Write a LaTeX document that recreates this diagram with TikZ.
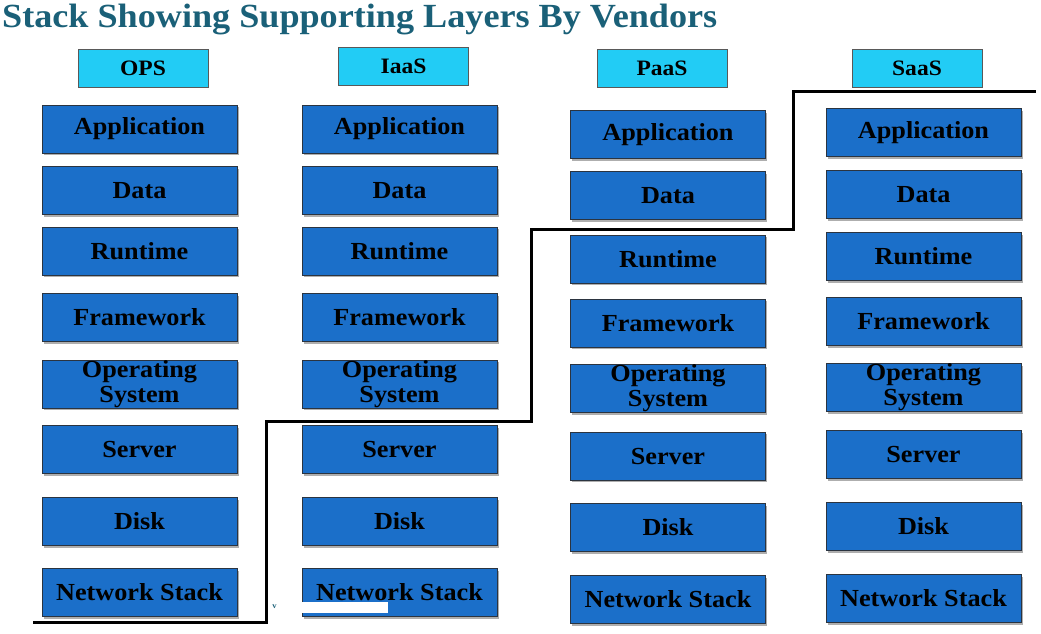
\documentclass[tikz,border=0pt]{standalone}
\usepackage{fontspec}
\setmainfont[FakeStretch=1.07]{Liberation Serif}
\usetikzlibrary{shadows}
\definecolor{layerblue}{HTML}{1B6FC9}
\definecolor{headcyan}{HTML}{22CCF5}
\definecolor{titleteal}{HTML}{1A6078}
\definecolor{edgegray}{HTML}{2B3440}
\tikzset{
  layer/.style={draw=edgegray, line width=0.8pt, fill=layerblue, minimum width=195pt, minimum height=48pt,
    inner sep=0pt, font=\fontsize{24.5}{25}\selectfont\bfseries, text=black, align=center,
    drop shadow={shadow xshift=1.5pt, shadow yshift=-2pt, opacity=0.45, fill=black!70}},
  head/.style={draw=gray!70!black, line width=0.8pt, fill=headcyan, minimum width=130pt, minimum height=38pt,
    inner sep=0pt, font=\fontsize{22}{22}\selectfont\bfseries, text=black},
  stair/.style={line width=3pt, black, line cap=butt, line join=miter}
}
\begin{document}
\begin{tikzpicture}[x=1pt,y=-1pt]
\useasboundingbox (0,0) rectangle (1041,633);
\fill[white] (0,0) rectangle (1041,633);
% title
\node[anchor=base west, inner sep=0pt, text=titleteal, font=\fontsize{33.8}{34}\selectfont\bfseries] (title) at (2,27) {Stack Showing Supporting Layers By Vendors};
% headers
\node[head] (hOPS) at (143,68) {OPS};
\node[head] (hIaaS) at (403.5,66) {IaaS};
\node[head] (hPaaS) at (662,68) {PaaS};
\node[head] (hSaaS) at (917,68) {SaaS};
% column 1 OPS
\node[layer] (a1) at (139.5,129) {Application};
\node[layer] (b1) at (139.5,190.5) {Data};
\node[layer] (c1) at (139.5,251) {Runtime};
\node[layer] (d1) at (139.5,317.5) {Framework};
\node[layer] (e1) at (139.5,384) {Operating\\System};
\node[layer] (f1) at (139.5,449.5) {Server};
\node[layer] (g1) at (139.5,521.5) {Disk};
\node[layer] (h1) at (139.5,592.5) {Network Stack};
% column 2 IaaS
\node[layer] (a2) at (399.5,129) {Application};
\node[layer] (b2) at (399.5,190.5) {Data};
\node[layer] (c2) at (399.5,251) {Runtime};
\node[layer] (d2) at (399.5,317.5) {Framework};
\node[layer] (e2) at (399.5,384) {Operating\\System};
\node[layer] (f2) at (399.5,449.5) {Server};
\node[layer] (g2) at (399.5,521.5) {Disk};
\node[layer] (h2) at (399.5,592.5) {Network Stack};
% column 3 PaaS
\node[layer] (a3) at (668,134.5) {Application};
\node[layer] (b3) at (668,195.5) {Data};
\node[layer] (c3) at (668,259) {Runtime};
\node[layer] (d3) at (668,323) {Framework};
\node[layer] (e3) at (668,388.5) {Operating\\System};
\node[layer] (f3) at (668,456) {Server};
\node[layer] (g3) at (668,527.5) {Disk};
\node[layer] (h3) at (668,599.5) {Network Stack};
% column 4 SaaS
\node[layer] (a4) at (923.5,132.5) {Application};
\node[layer] (b4) at (923.5,194.5) {Data};
\node[layer] (c4) at (923.5,256.5) {Runtime};
\node[layer] (d4) at (923.5,321.5) {Framework};
\node[layer] (e4) at (923.5,387.5) {Operating\\System};
\node[layer] (f4) at (923.5,454.5) {Server};
\node[layer] (g4) at (923.5,526.5) {Disk};
\node[layer] (h4) at (923.5,598.5) {Network Stack};
% staircase boundary
\coordinate (s0) at (33,622.5);
\coordinate (s1) at (266,622.5);
\coordinate (s2) at (266,421.5);
\coordinate (s3) at (531,421.5);
\coordinate (s4) at (531,229);
\coordinate (s5) at (793,229);
\coordinate (s6) at (793,91);
\coordinate (s7) at (1036,91);
\draw[stair] (s0) -- (s1) -- (s2) -- (s3) -- (s4) -- (s5) -- (s6) -- (s7);
% artefacts
\fill[white] (300,602) rectangle (388,613);
\node[text=titleteal, font=\fontsize{8}{8}\selectfont\bfseries, inner sep=0pt] (vmark) at (274.5,607) {v};
\end{tikzpicture}
\end{document}
